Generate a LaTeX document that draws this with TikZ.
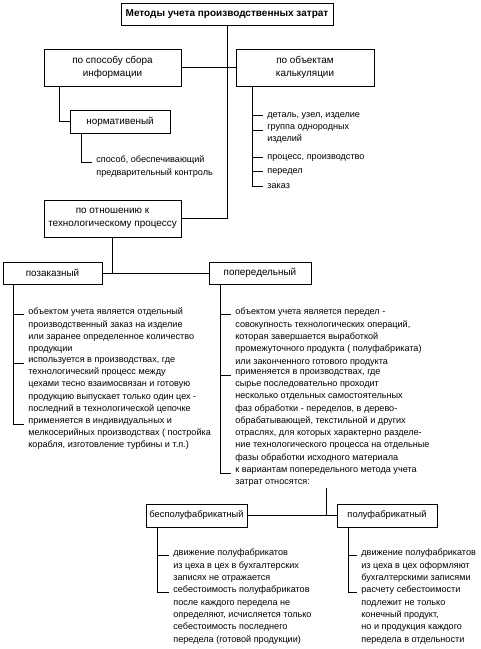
\documentclass[tikz,border=0pt]{standalone}
\usepackage{fontspec}
\setmainfont{Liberation Sans}
\newcommand\myfs{\fontsize{9.1}{12.3}\selectfont}
\newcommand\boxfs{\fontsize{9.9}{13.2}\selectfont}
\begin{document}
\begin{tikzpicture}[x=1pt,y=-1pt,line width=0.8pt,
  box/.style={draw,align=center,inner sep=0pt,font=\boxfs,minimum height=#1},
  box/.default=23pt,
  item/.style={anchor=north west,align=left,inner sep=0pt,font=\myfs,execute at begin node=\strut}]
\useasboundingbox (0,0) rectangle (481,649);
% boxes
\node[box=22pt,minimum width=212pt,font=\fontsize{10}{12}\selectfont\bfseries] (title) at (227,14) {Методы учета производственных затрат};
\node[box=37pt,minimum width=137pt] (sposob) at (112.5,67.5) {по способу сбора\\информации};
\node[box=37pt,minimum width=138pt] (obj) at (305,67.5) {по объектам\\калькуляции};
\node[box,minimum width=100pt] (norm) at (120,121.5) {нормативеный};
\node[box=37pt,minimum width=137pt] (otn) at (112.5,218.5) {по отношению к\\технологическому процессу};
\node[box=22pt,minimum width=99pt] (poz) at (52.5,273) {позаказный};
\node[box=22pt,minimum width=102pt] (pop) at (260,273) {попередельный};
\node[box,minimum width=101pt,font=\fontsize{9.3}{12}\selectfont] (bes) at (196.5,515.5) {бесполуфабрикатный};
\node[box,minimum width=100pt,font=\fontsize{9.3}{12}\selectfont] (pf) at (387,515.5) {полуфабрикатный};
% text items (north west = tick y - 6.2)
\node[item] (sp) at (96,155.8) {способ, обеспечивающий\\предварительный контроль};
\node[item] (o1) at (267,108.8) {деталь, узел, изделие};
\node[item] (o2) at (267,123.8) {группа однородных\\изделий};
\node[item] (o3) at (267,150.8) {процесс, производство};
\node[item] (o4) at (267,164.8) {передел};
\node[item] (o5) at (267,179.8) {заказ};
\node[item] (z1) at (28,307.8) {объектом учета является отдельный\\производственный заказ на изделие\\или заранее определенное количество\\продукции};
\node[item] (z2) at (28,356.8) {используется в производствах, где\\технологический процесс между\\цехами тесно взаимосвязан и готовую\\продукцию выпускает только один цех -\\последний в технологической цепочке};
\node[item] (z3) at (28,417.8) {применяется в индивидуальных и\\мелкосерийных производствах ( постройка\\корабля, изготовление турбины и т.п.)};
\node[item] (p1) at (235,307.8) {объектом учета является передел -\\совокупность технологических операций,\\которая завершается выработкой\\промежуточного продукта ( полуфабриката)\\или законченного готового продукта};
\node[item] (p2) at (235,368.8) {применяется в производствах, где\\сырье последовательно проходит\\несколько отдельных самостоятельных\\фаз обработки - переделов, в дерево-\\обрабатывающей, текстильной и других\\отраслях, для которых характерно разделе-\\ние технологического процесса на отдельные\\фазы обработки исходного материала};
\node[item] (p3) at (235,466.8) {к вариантам попередельного метода учета\\затрат относятся:};
\node[item] (b1) at (173,548.8) {движение полуфабрикатов\\из цеха в цех в бухгалтерских\\записях не отражается};
\node[item] (b2) at (173,585.8) {себестоимость полуфабрикатов\\после каждого передела не\\определяют, исчисляется только\\себестоимость последнего\\передела (готовой продукции)};
\node[item] (f1) at (361,548.8) {движение полуфабрикатов\\из цеха в цех оформляют\\бухгалтерскими записями};
\node[item] (f2) at (361,585.8) {расчету себестоимости\\подлежит не только\\конечный продукт,\\но и продукция каждого\\передела в отдельности};
% tick coordinates
\foreach \n in {sp,o1,o2,o3,o4,o5,z1,z2,z3,p1,p2,p3,b1,b2,f1,f2}
  \coordinate (t\n) at ([xshift=-4pt,yshift=-6.2pt]\n.north west);
% spines
\coordinate (sA) at ([xshift=16pt]sposob.south west);
\coordinate (sN) at ([xshift=12pt]norm.south west);
\coordinate (sO) at ([xshift=17pt]obj.south west);
\coordinate (sZ) at ([xshift=11pt]poz.south west);
\coordinate (sP) at ([xshift=12pt]pop.south west);
\coordinate (sB) at ([xshift=12pt]bes.south west);
\coordinate (sF) at ([xshift=12pt]pf.south west);
% connectors
\draw (title.south) |- (otn.east);
\draw (sposob.east) -- (obj.west);
\draw (sA) |- (norm.west);
\draw (sN) |- (tsp);
\draw (sO) |- (to5);
\foreach \n in {o1,o2,o3,o4} \draw (sO |- t\n) -- (t\n);
\draw (otn.south) |- (poz.east);
\draw (poz.east) -- (pop.west);
\draw (sZ) |- (tz3);
\foreach \n in {z1,z2} \draw (sZ |- t\n) -- (t\n);
\draw (sP) |- (tp3);
\foreach \n in {p1,p2} \draw (sP |- t\n) -- (t\n);
\draw (p3.south) |- (bes.east);
\draw (bes.east) -- (pf.west);
\draw (sB) |- (tb2);
\draw (sB |- tb1) -- (tb1);
\draw (sF) |- (tf2);
\draw (sF |- tf1) -- (tf1);
\end{tikzpicture}
\end{document}
